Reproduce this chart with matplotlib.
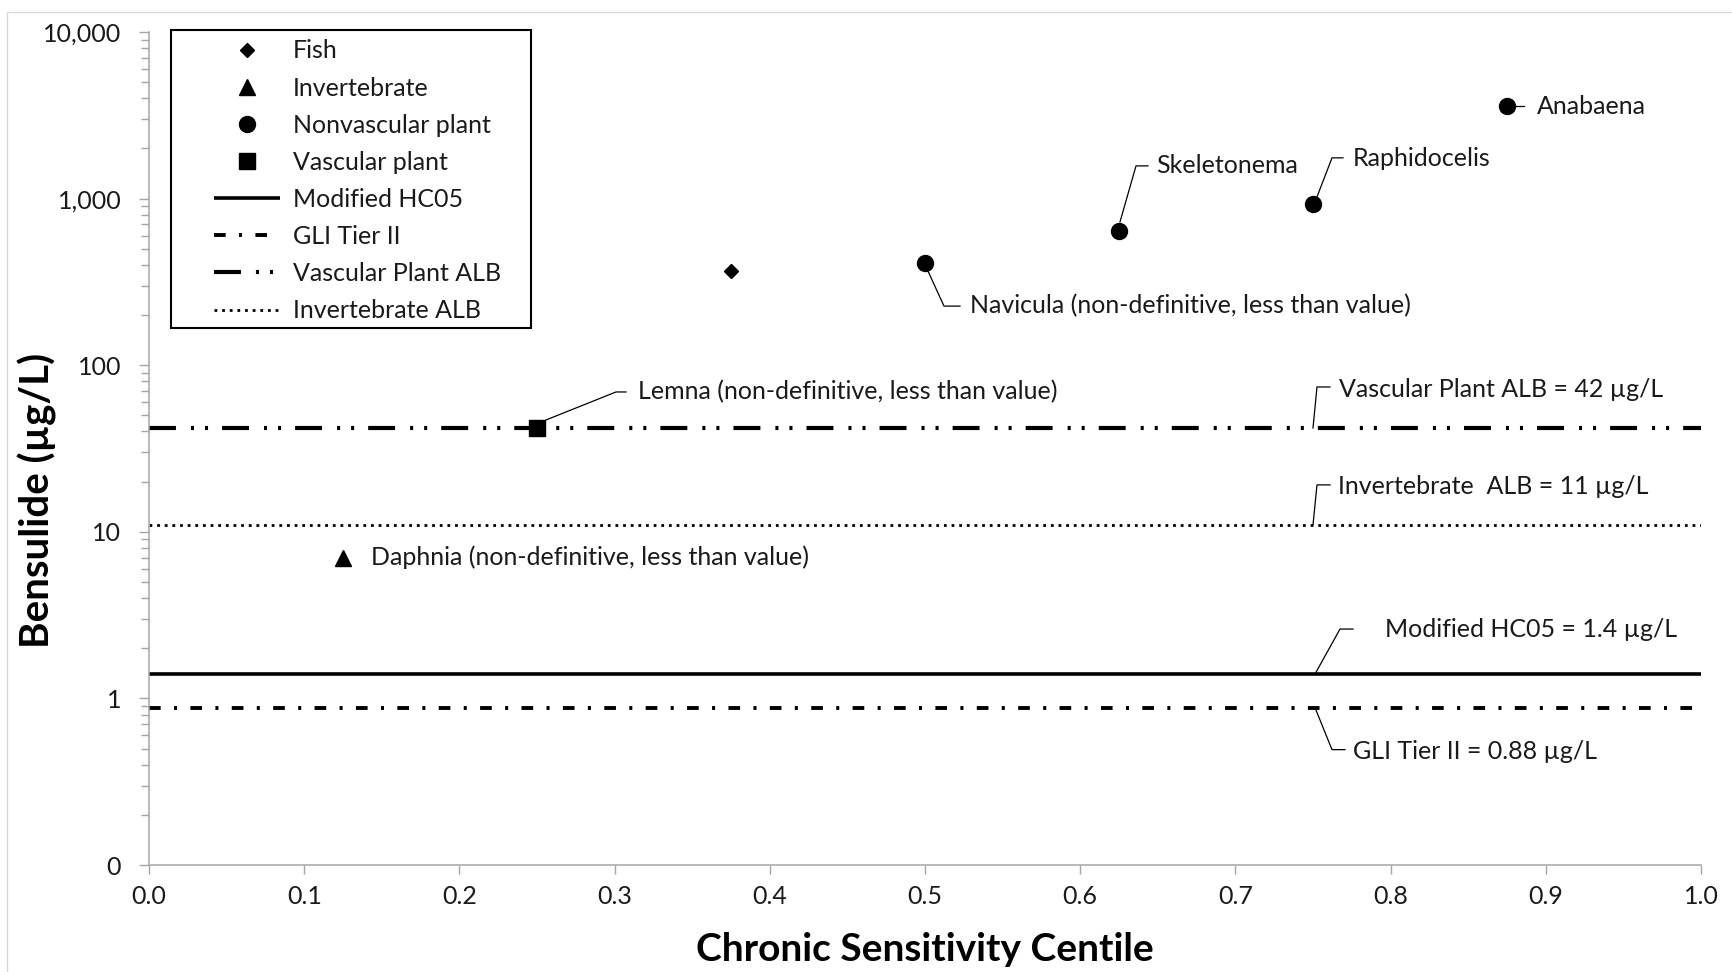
import matplotlib
matplotlib.use("Agg")
import matplotlib.pyplot as plt
from matplotlib.ticker import FuncFormatter, LogLocator, NullFormatter, MultipleLocator
from matplotlib.lines import Line2D
from matplotlib.patches import Rectangle
from matplotlib.transforms import IdentityTransform, Affine2D, ScaledTranslation

plt.rcParams['font.family'] = ['Lato', 'DejaVu Sans']
plt.rcParams['lines.scale_dashes'] = False

W, H = 1732, 972
FS = 18

# species chronic toxicity (ug/L) and their centile rank
species = ['Daphnia', 'Lemna', 'Fish', 'Navicula', 'Skeletonema', 'Raphidocelis', 'Anabaena']
groups = ['Invertebrate', 'Vascular plant', 'Fish', 'Nonvascular plant',
          'Nonvascular plant', 'Nonvascular plant', 'Nonvascular plant']
centile = [0.125, 0.25, 0.375, 0.5, 0.625, 0.75, 0.875]
conc = [7.0, 42, 370, 410, 640, 930, 3600]
point_labels = ['Daphnia (non-definitive, less than value)',
                'Lemna (non-definitive, less than value)',
                '',
                'Navicula (non-definitive, less than value)',
                'Skeletonema', 'Raphidocelis', 'Anabaena']

# benchmark lines
ref_names = ['Modified HC05', 'GLI Tier II', 'Vascular Plant ALB', 'Invertebrate ALB']
ref_values = [1.4, 0.88, 42, 11]
ref_labels = ['Modified HC05 = 1.4 \u00b5g/L', 'GLI Tier II = 0.88 \u00b5g/L',
              'Vascular Plant ALB = 42 \u00b5g/L', 'Invertebrate  ALB = 11 \u00b5g/L']
ref_label_x = 0.75

group_order = ['Fish', 'Invertebrate', 'Nonvascular plant', 'Vascular plant']
group_marker = {'Fish': ('D', 7.6), 'Invertebrate': ('^', 11.5),
                'Nonvascular plant': ('o', 11.5), 'Vascular plant': ('s', 11)}
ref_style = {
    'Modified HC05': dict(ls='-', lw=2.6),
    'GLI Tier II': dict(ls=(0, (8.4, 9.6, 2.2, 9.6)), lw=2.8),
    'Vascular Plant ALB': dict(ls=(0, (19.4, 10.8, 2.2, 7.9, 2.2, 10.1)), lw=3.0),
    'Invertebrate ALB': dict(ls=(0, (2.0, 3.5)), lw=2.0),
}

# leader geometry in pixels relative to the point (x right, y down):
# polyline vertices, then text anchor (left, middle)
point_leaders = {
    'Daphnia': ([], (28, 0)),
    'Lemna': ([(9, -8), (79, -36), (89, -36)], (101, -36)),
    'Navicula': ([(3, 8), (19, 43), (35, 43)], (45, 43)),
    'Skeletonema': ([(1, -9), (17, -65), (29, -65)], (37, -65)),
    'Raphidocelis': ([(4, -7), (19, -46), (30, -46)], (40, -45)),
    'Anabaena': ([(8, 0), (17, 0)], (30, 1)),
}
ref_leaders = {
    'Modified HC05': ([(2, 0), (27, -45), (40, -45)], (72, -45)),
    'GLI Tier II': ([(2, 0), (19, 42), (32, 42)], (40, 44)),
    'Vascular Plant ALB': ([(0, 0), (4, -41), (17, -41)], (26, -38)),
    'Invertebrate ALB': ([(0, 0), (4, -40), (17, -40)], (25, -38)),
}

fig = plt.figure(figsize=(W / 100, H / 100), dpi=100)
ax = fig.add_axes([149 / W, 1 - 865 / H, (1701 - 149) / W, (865 - 32) / H])

ref_handles = []
for name, val in zip(ref_names, ref_values):
    st = ref_style[name]
    h = ax.axhline(val, color='black', linestyle=st['ls'], lw=st['lw'],
                   dash_capstyle='butt', solid_capstyle='butt', label=name, zorder=2)
    ref_handles.append(h)

grp_handles = []
for g in group_order:
    xs = [c for c, gg in zip(centile, groups) if gg == g]
    ys = [v for v, gg in zip(conc, groups) if gg == g]
    m, ms = group_marker[g]
    h, = ax.plot(xs, ys, ls='none', marker=m, ms=ms, color='black', label=g, zorder=4)
    grp_handles.append(h)

ax.set_yscale('log')
ax.set_ylim(0.1, 10000)
ax.set_xlim(0, 1)
ax.xaxis.set_major_locator(MultipleLocator(0.1))
ax.xaxis.set_major_formatter(FuncFormatter(lambda v, p: '{:.1f}'.format(v)))
ax.yaxis.set_major_locator(LogLocator(base=10, numticks=10))
ax.yaxis.set_minor_locator(LogLocator(base=10, subs=range(2, 10), numticks=20))
ax.yaxis.set_minor_formatter(NullFormatter())
ax.yaxis.set_major_formatter(FuncFormatter(lambda v, p: '{:,.0f}'.format(v)))

axis_grey = '#a6a6a6'
text_col = '#1a1a1a'
for side in ['top', 'right']:
    ax.spines[side].set_visible(False)
for side in ['left', 'bottom']:
    ax.spines[side].set_color(axis_grey)
    ax.spines[side].set_linewidth(1.1)
ax.tick_params(axis='x', which='major', direction='out', length=6.5, width=1,
               color=axis_grey, labelsize=FS, pad=8, labelcolor=text_col)
ax.tick_params(axis='y', which='major', direction='out', length=7, width=1,
               color=axis_grey, labelsize=FS, pad=13, labelcolor=text_col)
ax.tick_params(axis='y', which='minor', direction='out', length=5.5, width=1,
               color=axis_grey)

ax.set_xlabel('Chronic Sensitivity Centile', fontsize=28, fontweight='bold',
              va='center', color='black')
ax.xaxis.set_label_coords(0.5, -0.102)
ax.set_ylabel('Bensulide (\u00b5g/L)', fontsize=29, fontweight='bold',
              va='center', color='black')
ax.yaxis.set_label_coords(-0.0722, 0.438)


def leader(xv, yv, verts, txt_off, txt):
    trans = Affine2D().scale(1, -1) + ScaledTranslation(xv, yv, ax.transData)
    if verts:
        ax.add_line(Line2D([v[0] for v in verts], [v[1] for v in verts],
                           transform=trans, color='black', lw=0.9, zorder=3))
    ax.annotate(txt, (xv, yv), xytext=(txt_off[0], -txt_off[1]),
                textcoords='offset pixels', ha='left', va='center',
                fontsize=FS, color=text_col, zorder=5)


for name, x, v, lab in zip(species, centile, conc, point_labels):
    if lab:
        verts, toff = point_leaders[name]
        leader(x, v, verts, toff, lab)

for name, v, lab in zip(ref_names, ref_values, ref_labels):
    verts, toff = ref_leaders[name]
    leader(ref_label_x, v, verts, toff, lab)

# legend with a hand-drawn square frame
leg = ax.legend(grp_handles + ref_handles, group_order + ref_names,
                loc='upper left', bbox_to_anchor=(214 / W, 932.5 / H),
                bbox_transform=fig.transFigure, borderaxespad=0, borderpad=0,
                frameon=False, fontsize=FS, handlelength=2.65, handletextpad=0.5,
                labelspacing=0.565, markerscale=1.0)
for t in leg.get_texts():
    t.set_color(text_col)
fig.add_artist(Rectangle((171, H - 328), 360, 298, transform=IdentityTransform(),
                         fill=False, edgecolor='black', lw=1.5))

# outer chart-area border
fig.add_artist(Rectangle((7, -20), W + 20, H - 12 + 20, transform=IdentityTransform(),
                         fill=False, edgecolor='#d9d9d9', lw=1))

fig.savefig('out.png', dpi=100)
